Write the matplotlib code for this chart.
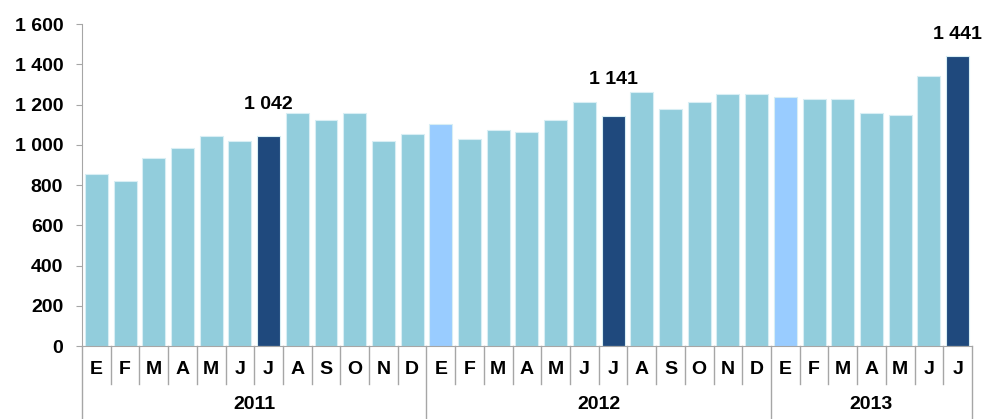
import matplotlib.pyplot as plt

plt.rcParams['font.family'] = ['Liberation Sans', 'DejaVu Sans']

# ---- data ----
years = ['2011', '2012', '2013']
months_per_year = [12, 12, 7]
month_letters = ['E', 'F', 'M', 'A', 'M', 'J', 'J', 'A', 'S', 'O', 'N', 'D']

values_2011 = [855, 820, 935, 985, 1045, 1020, 1042, 1158, 1125, 1157, 1020, 1055]
values_2012 = [1105, 1029, 1073, 1063, 1125, 1211, 1141, 1261, 1176, 1211, 1251, 1251]
values_2013 = [1236, 1227, 1227, 1156, 1150, 1340, 1441]

labelled = [6, 18, 30]          # bars carrying a value label (July of each year)
label_gap_px = [23, 28, 13]      # label gaps above the bar, as in the reference

values = values_2011 + values_2012 + values_2013
labels = [month_letters[i] for n in months_per_year for i in range(n)]
n = len(values)

light = '#92CDDC'
jan = '#99CCFF'
dark = '#1F497D'
axis_col = '#A6A6A6'

colors = []
for i, lab in enumerate(labels):
    if i in labelled:
        colors.append(dark)
    elif lab == 'E' and i > 0:
        colors.append(jan)
    else:
        colors.append(light)

fig = plt.figure(figsize=(9.9, 4.19), dpi=100)
ax = fig.add_axes([0.0828, 0.1742, 0.8990, 0.7685])

x = list(range(n))
ax.bar(x, values, width=0.8, color=colors, edgecolor='#D8EEF4', linewidth=0.8, zorder=2)

def fmt(v):
    return f"{v:,}".replace(',', ' ')

fs = 14

for i, gap in zip(labelled, label_gap_px):
    ax.annotate(fmt(values[i]), (i, values[i]), xytext=(0, gap), textcoords='offset pixels',
                ha='center', va='bottom', fontsize=fs, fontweight='bold')

ax.set_xlim(-0.5, n - 0.5)
ax.set_ylim(0, 1600)
ax.set_yticks(range(0, 1601, 200))
ax.set_yticklabels([fmt(v) for v in range(0, 1601, 200)], fontsize=fs, fontweight='bold')
ax.tick_params(axis='y', length=4.5, color=axis_col, pad=9)
ax.set_xticks([])

for s in ['top', 'right']:
    ax.spines[s].set_visible(False)
ax.spines['left'].set_color(axis_col)
ax.spines['bottom'].set_color(axis_col)
ax.spines['left'].set_bounds(0, 1600)

# category axis: month separators, year separators and labels
trans = ax.get_xaxis_transform()
year_edges = [0]
for m in months_per_year:
    year_edges.append(year_edges[-1] + m)

for b in range(n + 1):
    low = -0.227 if b in year_edges else -0.118
    ax.plot([b - 0.5, b - 0.5], [0, low], transform=trans, color=axis_col,
            linewidth=1.0, clip_on=False)

for i, lab in enumerate(labels):
    ax.text(i, -0.072, lab, transform=trans, ha='center', va='center',
            fontsize=fs, fontweight='bold')

for y, a, b in zip(years, year_edges[:-1], year_edges[1:]):
    ax.text((a + b - 1) / 2, -0.183, y, transform=trans, ha='center', va='center',
            fontsize=fs, fontweight='bold')

fig.savefig('out.png', dpi=100)
